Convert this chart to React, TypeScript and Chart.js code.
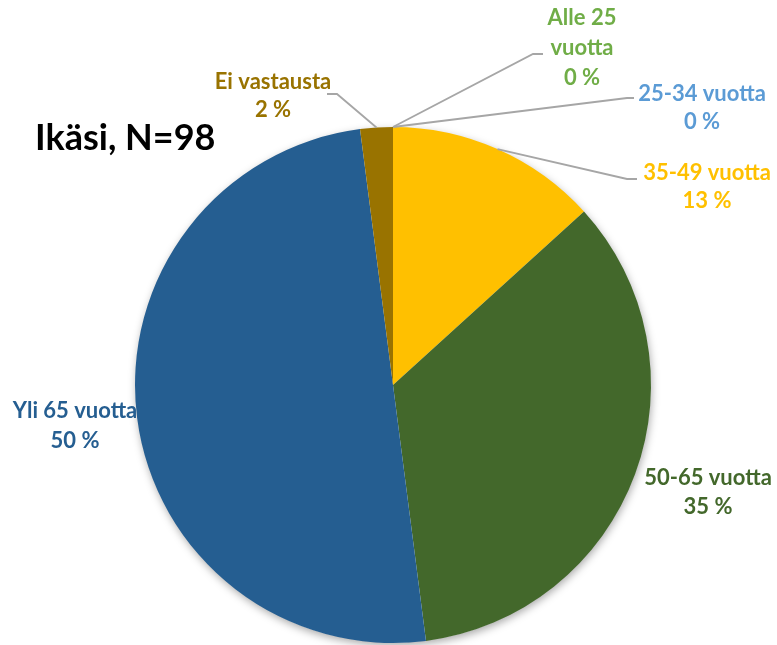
import React, { useEffect, useRef } from "react";
import { Chart, registerables } from "chart.js";

Chart.register(...registerables);

const categories = ["Alle 25 vuotta", "25-34 vuotta", "35-49 vuotta", "50-65 vuotta", "Yli 65 vuotta", "Ei vastausta"];
const counts = [0, 0, 13, 34, 49, 2];
const titleText = "Ikäsi, N=98";

const sliceColors = ["#70AD47", "#5B9BD5", "#FFC000", "#43682B", "#255E91", "#997300"];

// label layout (style/positions)
const labelLayout = [
  { lines: ["Alle 25", "vuotta"], x: 582, y: 18, gap: 30, leader: [[543, 54], [533, 54]] },
  { lines: ["25-34 vuotta"], x: 702, y: 94, gap: 28, leader: [[634, 98], [627, 98]] },
  { lines: ["35-49 vuotta"], x: 707, y: 173, gap: 28, leader: [[637, 179], [627, 179]] },
  { lines: ["50-65 vuotta"], x: 708, y: 478, gap: 29, leader: null },
  { lines: ["Yli 65 vuotta"], x: 75, y: 411, gap: 30, leader: null },
  { lines: ["Ei vastausta"], x: 273, y: 82, gap: 28, leader: [[327, 94], [337, 94]] },
];

const labelPlugin = {
  id: "labelPlugin",
  beforeDatasetsDraw(chart: any) {
    const meta = chart.getDatasetMeta(0);
    const el = meta.data[0];
    if (!el) return;
    const { x, y, outerRadius } = el.getProps(["x", "y", "outerRadius"], true);
    const ctx = chart.ctx;
    ctx.save();
    ctx.shadowColor = "rgba(0,0,0,0.35)";
    ctx.shadowBlur = 8;
    ctx.shadowOffsetX = 1;
    ctx.shadowOffsetY = 3;
    ctx.fillStyle = "#ffffff";
    ctx.beginPath();
    ctx.arc(x, y, outerRadius - 0.5, 0, Math.PI * 2);
    ctx.fill();
    ctx.restore();
  },
  afterDatasetsDraw(chart: any) {
    const ctx = chart.ctx;
    const meta = chart.getDatasetMeta(0);
    const total = counts.reduce((a, b) => a + b, 0);
    ctx.save();
    // title
    ctx.fillStyle = "#000000";
    ctx.font = "bold 36px Lato";
    ctx.textAlign = "left";
    ctx.textBaseline = "middle";
    ctx.fillText(titleText, 35, 138);

    labelLayout.forEach((lab, i) => {
      const el = meta.data[i];
      const p = el.getProps(["x", "y", "startAngle", "endAngle", "outerRadius"], true);
      const mid = (p.startAngle + p.endAngle) / 2;
      if (lab.leader) {
        const ex = p.x + Math.cos(mid) * p.outerRadius;
        const ey = p.y + Math.sin(mid) * p.outerRadius;
        ctx.strokeStyle = "#A6A6A6";
        ctx.lineWidth = 1.8;
        ctx.beginPath();
        ctx.moveTo(lab.leader[0][0], lab.leader[0][1]);
        ctx.lineTo(lab.leader[1][0], lab.leader[1][1]);
        ctx.lineTo(ex, ey);
        ctx.stroke();
      }
      const pct = Math.round((counts[i] / total) * 100) + " %";
      const lines = [...lab.lines, pct];
      ctx.fillStyle = sliceColors[i];
      ctx.font = "bold 22px Lato";
      ctx.textAlign = "center";
      ctx.textBaseline = "middle";
      lines.forEach((t, j) => ctx.fillText(t, lab.x, lab.y + j * lab.gap));
    });
    ctx.restore();
  },
};

export default function App() {
  const ref = useRef<HTMLCanvasElement>(null);
  useEffect(() => {
    document.body.style.margin = "0";
    if (!ref.current) return;
    const chart = new Chart(ref.current, {
      type: "pie",
      data: {
        labels: categories,
        datasets: [
          {
            data: counts,
            backgroundColor: sliceColors,
            borderWidth: 0,
          },
        ],
      },
      options: {
        responsive: false,
        animation: false,
        layout: { padding: { left: 135, right: 126, top: 127, bottom: 2 } },
        plugins: {
          legend: { display: false },
          tooltip: { enabled: false },
          title: { display: false },
        },
      },
      plugins: [labelPlugin],
    });
    return () => chart.destroy();
  }, []);
  return (
    <div style={{ width: 777, height: 645, background: "#fff" }}>
      <canvas ref={ref} width={777} height={645} style={{ width: 777, height: 645, display: "block" }} />
    </div>
  );
}
